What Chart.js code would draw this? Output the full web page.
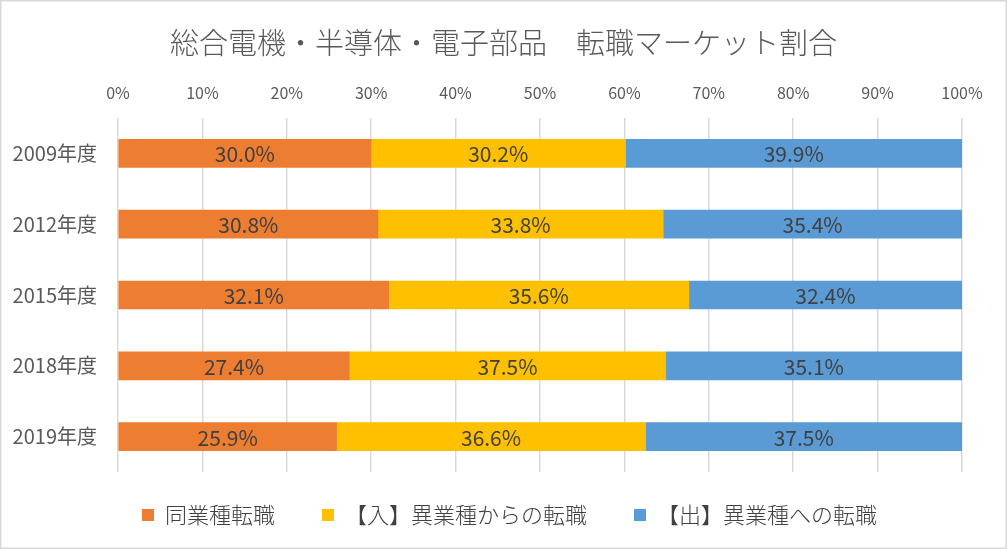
<!DOCTYPE html>
<html>
<head>
<meta charset="utf-8">
<script src="https://cdn.jsdelivr.net/npm/chart.js@4"></script>
<style>
  html, body { margin: 0; padding: 0; background: #fff; }
  #wrap { width: 1007px; height: 549px; }
</style>
</head>
<body>
<div id="wrap"><canvas id="myChart" width="1007" height="549"></canvas></div>
<script>
// chart data
var years = ['2009年度', '2012年度', '2015年度', '2018年度', '2019年度'];
var sameIndustry = [30.0, 30.8, 32.1, 27.4, 25.9];   // 同業種転職
var fromOther = [30.2, 33.8, 35.6, 37.5, 36.6];      // 【入】異業種からの転職
var toOther = [39.9, 35.4, 32.4, 35.1, 37.5];        // 【出】異業種への転職
var xTicks = [0, 10, 20, 30, 40, 50, 60, 70, 80, 90, 100];
var chartTitle = '総合電機・半導体・電子部品　転職マーケット割合';

var FONT = '"Noto Sans CJK JP", "Noto Sans", sans-serif';

// 100% stacked: scale each row to its total, keep the raw value for the label
var totals = years.map(function (y, i) { return sameIndustry[i] + fromOther[i] + toOther[i]; });
function norm(arr) {
    return arr.map(function (v, i) { return v / totals[i] * 100; });
}

// white background, title centred on the whole canvas, thin outer frame
var frame = {
    id: 'frame',
    beforeDraw: function (chart) {
        var c = chart.ctx;
        c.save();
        c.fillStyle = '#fff';
        c.fillRect(0, 0, chart.width, chart.height);
        c.font = '300 29px ' + FONT;
        c.fillStyle = '#595959';
        c.textAlign = 'center';
        c.textBaseline = 'middle';
        c.fillText(chartTitle, chart.width / 2, 43);
        c.restore();
    },
    afterDraw: function (chart) {
        var c = chart.ctx;
        c.save();
        c.strokeStyle = '#D9D9D9';
        c.lineWidth = 1.5;
        c.strokeRect(0.75, 0.75, chart.width - 1.5, chart.height - 1.5);
        c.restore();
    }
};

// move the legend row up and centre it on the canvas
var legendShift = {
    id: 'legendShift',
    afterLayout: function (chart) {
        var lg = chart.legend;
        var h = lg.height;
        lg.top = 457;
        lg.bottom = lg.top + h;
        lg.left = 50;
        lg.right = 969;
        lg.width = lg.right - lg.left;
    }
};

// value labels in the middle of each bar segment
var barLabels = {
    id: 'barLabels',
    afterDatasetsDraw: function (chart) {
        var c = chart.ctx;
        c.save();
        c.font = '21px ' + FONT;
        c.fillStyle = '#404040';
        c.textAlign = 'center';
        c.textBaseline = 'middle';
        chart.data.datasets.forEach(function (ds, di) {
            chart.getDatasetMeta(di).data.forEach(function (bar, i) {
                var x = (bar.x + bar.base) / 2;
                c.fillText(ds.raw[i].toFixed(1) + '%', x, bar.y + 1);
            });
        });
        c.restore();
    }
};

var ctx = document.getElementById('myChart').getContext('2d');
var myChart = new Chart(ctx, {
    type: 'bar',
    data: {
        labels: years,
        datasets: [{
            label: '同業種転職',
            backgroundColor: '#ED7D31',
            data: norm(sameIndustry),
            raw: sameIndustry
        }, {
            label: '【入】異業種からの転職',
            backgroundColor: '#FFC000',
            data: norm(fromOther),
            raw: fromOther
        }, {
            label: '【出】異業種への転職',
            backgroundColor: '#5B9BD5',
            data: norm(toOther),
            raw: toOther
        }]
    },
    options: {
        indexAxis: 'y',
        responsive: false,
        animation: false,
        barThickness: 28,
        layout: { padding: { left: 0, right: 45, top: 60, bottom: -2 } },
        scales: {
            x: {
                position: 'top',
                stacked: true,
                min: 0,
                max: 100,
                afterBuildTicks: function (scale) {
                    scale.ticks = xTicks.map(function (v) { return { value: v }; });
                },
                afterFit: function (scale) { scale.height = 58; },
                ticks: {
                    color: '#595959',
                    font: { family: FONT, size: 16 },
                    padding: 15,
                    callback: function (v) { return v + '%'; }
                },
                grid: { color: '#D9D9D9', lineWidth: 1.5, drawTicks: false },
                border: { display: false }
            },
            y: {
                stacked: true,
                afterFit: function (scale) { scale.width = 118; },
                ticks: {
                    color: '#595959',
                    font: { family: FONT, size: 20 },
                    padding: 13
                },
                grid: { display: false },
                border: { display: false }
            }
        },
        plugins: {
            title: { display: false },
            legend: {
                position: 'bottom',
                labels: {
                    color: '#404040',
                    font: { family: FONT, size: 22, weight: 300 },
                    boxWidth: 12,
                    boxHeight: 12,
                    padding: 47
                }
            },
            tooltip: { enabled: false }
        }
    },
    plugins: [frame, legendShift, barLabels]
});
</script>
</body>
</html>
